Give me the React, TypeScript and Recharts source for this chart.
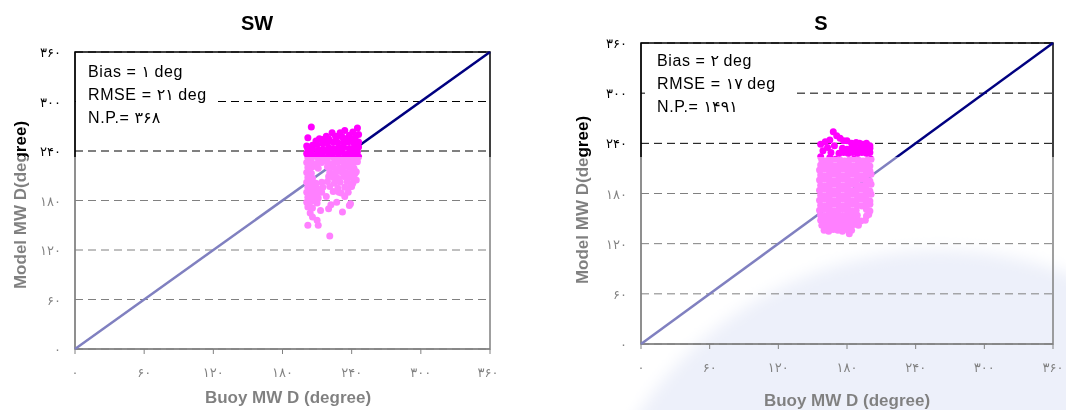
import React from 'react';
import {
  ScatterChart,
  Scatter,
  XAxis,
  YAxis,
  CartesianGrid,
  ReferenceArea,
} from 'recharts';

const tickValues = [0, 60, 120, 180, 240, 300, 360];
const tickLabels = ['۰', '۶۰', '۱۲۰', '۱۸۰', '۲۴۰', '۳۰۰', '۳۶۰'];
const diagonal = [
  { x: 0, y: 0 },
  { x: 360, y: 360 },
];

const swStats = ['Bias = ۱ deg', 'RMSE = ۲۱ deg', 'N.P.= ۳۶۸'];
const sStats = ['Bias = ۲ deg', 'RMSE = ۱۷ deg', 'N.P.= ۱۴۹۱'];

// buoy vs model direction, SW sector
const swPoints: [number, number][] = [
  [205, 269], [202, 256], [212, 255], [218, 258], [223, 262], [227, 257], [230, 262], [234, 265], [238, 259], [241, 263],
  [245, 268], [246, 260], [209, 252], [215, 254], [236, 255], [243, 256], [226, 258], [232, 257], [240, 254], [220, 255],
  [201, 246], [206, 247], [210, 248], [215, 249], [219, 250], [224, 251], [228, 250], [233, 251], [237, 251], [242, 250], [246, 251],
  [202, 242], [206, 243], [211, 241], [215, 242], [220, 244], [224, 243], [229, 244], [233, 245], [238, 243], [242, 244], [246, 245],
  [201, 237], [205, 238], [210, 236], [214, 237], [219, 239], [223, 237], [228, 238], [232, 239], [237, 237], [241, 238], [245, 239],
  [202, 232], [206, 233], [211, 231], [216, 232], [220, 233], [225, 231], [229, 232], [234, 233], [238, 231], [243, 232], [246, 233],
  [201, 226], [205, 227], [210, 225], [214, 226], [219, 227], [224, 225], [228, 226], [233, 227], [237, 225], [242, 226], [245, 227],
  [202, 220], [206, 221], [211, 219], [219, 221], [224, 220], [229, 219], [233, 221], [238, 220], [242, 219],
  [201, 214], [205, 213], [221, 214], [226, 213], [231, 215], [235, 214], [240, 213], [244, 215],
  [202, 208], [206, 207], [220, 209], [224, 208], [228, 207], [233, 209], [238, 208], [242, 207],
  [201, 202], [205, 203], [209, 201], [214, 202], [219, 203], [225, 201], [230, 202], [236, 203], [241, 201],
  [202, 196], [206, 197], [210, 195], [215, 196], [221, 197], [228, 195], [234, 196], [239, 197],
  [201, 190], [205, 191], [209, 189], [214, 190], [224, 191], [231, 189], [237, 190],
  [202, 184], [206, 185], [211, 183], [218, 185], [234, 185],
  [201, 178], [205, 179], [210, 177], [222, 175], [227, 178], [239, 176],
  [202, 172], [206, 171], [213, 168], [220, 170],
  [204, 165], [206, 160], [210, 156], [202, 150], [211, 150], [221, 137], [232, 166], [238, 174], [243, 213], [244, 205],
  [240, 197], [203, 176], [209, 181], [229, 190],
];

// buoy vs model direction, S sector
const sPoints: [number, number][] = [
  [168, 254], [171, 249], [174, 246], [165, 244], [161, 242], [157, 239], [177, 243], [180, 243], [184, 240], [188, 241],
  [191, 240], [194, 239], [197, 240], [200, 237], [186, 236], [169, 237], [163, 235], [159, 231], [166, 229], [157, 224], [165, 223],
  [176, 234], [180, 233], [184, 234], [188, 233], [192, 234], [196, 233], [200, 234],
  [173, 228], [177, 229], [181, 228], [185, 229], [189, 228], [193, 229], [197, 228], [200, 229],
  [158, 220], [162, 219], [166, 220], [170, 221], [174, 220], [178, 219], [182, 220], [186, 221], [190, 220], [194, 219], [198, 220], [201, 221],
  [157, 214], [161, 215], [165, 214], [169, 213], [173, 214], [177, 215], [181, 214], [185, 213], [189, 214], [193, 215], [197, 214], [200, 213],
  [156, 208], [160, 209], [164, 208], [168, 207], [172, 208], [176, 209], [180, 208], [184, 207], [188, 208], [192, 209], [196, 208], [200, 207],
  [157, 202], [161, 201], [165, 202], [169, 203], [173, 202], [177, 201], [181, 202], [185, 203], [189, 202], [193, 201], [197, 202], [201, 203],
  [156, 196], [160, 197], [164, 196], [168, 195], [172, 196], [176, 197], [180, 196], [184, 195], [188, 196], [192, 197], [196, 196], [200, 195],
  [157, 190], [161, 189], [165, 190], [169, 191], [173, 190], [177, 189], [181, 190], [185, 191], [189, 190], [193, 189], [197, 190], [201, 191],
  [156, 184], [160, 185], [164, 184], [168, 183], [172, 184], [176, 185], [180, 184], [184, 183], [188, 184], [192, 185], [196, 184], [200, 183],
  [157, 178], [161, 177], [165, 178], [169, 179], [173, 178], [177, 177], [181, 178], [185, 179], [189, 178], [193, 177], [197, 178], [201, 179],
  [156, 172], [160, 173], [164, 172], [168, 171], [172, 172], [176, 173], [180, 172], [184, 171], [188, 172], [192, 173], [196, 172], [200, 171],
  [157, 166], [161, 165], [165, 166], [169, 167], [173, 166], [177, 165], [181, 166], [185, 167], [189, 166], [193, 165], [197, 166], [200, 167],
  [156, 160], [160, 161], [164, 160], [168, 159], [172, 160], [176, 161], [180, 160], [184, 159], [188, 160], [197, 161], [200, 159],
  [157, 154], [161, 153], [165, 154], [169, 155], [173, 154], [177, 153], [181, 154], [185, 155], [189, 154], [197, 153], [199, 155],
  [157, 148], [160, 147], [164, 148], [168, 149], [172, 148], [176, 147], [180, 148], [184, 149], [188, 148], [192, 147], [196, 148],
  [158, 142], [162, 141], [166, 142], [170, 143], [174, 142], [178, 141], [182, 142], [186, 143], [190, 142],
  [160, 136], [164, 135], [168, 137], [172, 136], [176, 135], [180, 137], [184, 136],
  [182, 132],
];

const labelOf = (v: number) => tickLabels[tickValues.indexOf(v)] ?? String(v);
const digitFont = "'DejaVu Sans', Arial, sans-serif";
const textFont = "Arial, 'Liberation Sans', 'DejaVu Sans', sans-serif";

const YTick = ({ x, y, payload }: any) => (
  <text x={x} y={y} dy={5} textAnchor="end" fontSize={13} letterSpacing={2} fontFamily={digitFont} fill="#000">
    {labelOf(payload.value)}
  </text>
);

const XTick = ({ x, y, payload }: any) => (
  <text x={x} y={y} dy={5} textAnchor="middle" fontSize={13} letterSpacing={2} fontFamily={digitFont} fill="#000">
    {labelOf(payload.value)}
  </text>
);

const Dot = (p: any) => <circle cx={p.cx} cy={p.cy} r={3.5} fill="#ff00ff" />;
const NoDot = () => <g />;

type PanelProps = {
  points: [number, number][];
  left: number;
  width: number;
  margin: { top: number; right: number; bottom: number; left: number };
  yAxisWidth: number;
};

const Panel = ({ points, left, width, margin, yAxisWidth }: PanelProps) => {
  const data = points.map(([x, y]) => ({ x, y }));
  return (
    <div style={{ position: 'absolute', left, top: 0 }}>
      <ScatterChart width={width} height={410} margin={margin}>
        <CartesianGrid vertical={false} stroke="#000" strokeDasharray="8 5" />
        <XAxis
          type="number"
          dataKey="x"
          domain={[0, 360]}
          ticks={tickValues}
          height={40}
          tickSize={5}
          tickMargin={18}
          tick={<XTick />}
          axisLine={{ stroke: '#000' }}
          tickLine={{ stroke: '#000' }}
        />
        <YAxis
          type="number"
          dataKey="y"
          domain={[0, 360]}
          ticks={tickValues}
          width={yAxisWidth}
          tickSize={0}
          tickMargin={14}
          tick={<YTick />}
          axisLine={{ stroke: '#000' }}
          tickLine={false}
        />
        <ReferenceArea x1={0} x2={360} y1={0} y2={360} fill="none" stroke="#000" strokeWidth={1.5} />
        <Scatter
          data={diagonal}
          line={{ stroke: '#000080', strokeWidth: 2.5 }}
          shape={<NoDot />}
          isAnimationActive={false}
        />
        <Scatter data={data} shape={<Dot />} isAnimationActive={false} />
      </ScatterChart>
    </div>
  );
};

const Stats = ({ x, y, lines, w }: { x: number; y: number; lines: string[]; w: number }) => (
  <g>
    <rect x={x - 12} y={y - 17} width={w} height={72} fill="#fff" />
    {lines.map((t, i) => (
      <text key={t} x={x} y={y + i * 23} fontSize={16} letterSpacing={0.6} fontFamily={textFont} fill="#000">
        {t}
      </text>
    ))}
  </g>
);

export default function App() {
  return (
    <div style={{ position: 'absolute', left: 0, top: 0, width: 1066, height: 410, overflow: 'hidden', background: '#fff' }}>
      <Panel points={swPoints} left={0} width={500} margin={{ top: 52, right: 10, bottom: 21, left: 0 }} yAxisWidth={75} />
      <Panel points={sPoints} left={560} width={506} margin={{ top: 43, right: 13, bottom: 26, left: 0 }} yAxisWidth={81} />
      <svg width={1066} height={410} style={{ position: 'absolute', left: 0, top: 0 }}>
        <Stats x={88} y={77} lines={swStats} w={142} />
        <Stats x={657} y={66} lines={sStats} w={148} />
        <text x={257} y={30} textAnchor="middle" fontSize={20} fontWeight="bold" fontFamily={textFont}>SW</text>
        <text x={821} y={30} textAnchor="middle" fontSize={20} fontWeight="bold" fontFamily={textFont}>S</text>
        <text x={288} y={403} textAnchor="middle" fontSize={17} fontWeight="bold" fontFamily={textFont}>Buoy MW D (degree)</text>
        <text x={847} y={406} textAnchor="middle" fontSize={17} fontWeight="bold" fontFamily={textFont}>Buoy MW D (degree)</text>
        <text x={26} y={205} textAnchor="middle" fontSize={17} fontWeight="bold" fontFamily={textFont} transform="rotate(-90 26 205)">
          Model MW D(degree)
        </text>
        <text x={588} y={200} textAnchor="middle" fontSize={17} fontWeight="bold" fontFamily={textFont} transform="rotate(-90 588 200)">
          Model MW D(degree)
        </text>
      </svg>
      <div
        style={{
          position: 'absolute',
          left: 580,
          top: 250,
          width: 720,
          height: 720,
          borderRadius: '50%',
          background: 'rgb(218,224,244)',
          mixBlendMode: 'multiply',
          filter: 'blur(8px)',
        }}
      />
      <div style={{ position: 'absolute', left: 0, top: 157, width: 1066, height: 253, background: 'rgba(255,255,255,0.5)' }} />
    </div>
  );
}
